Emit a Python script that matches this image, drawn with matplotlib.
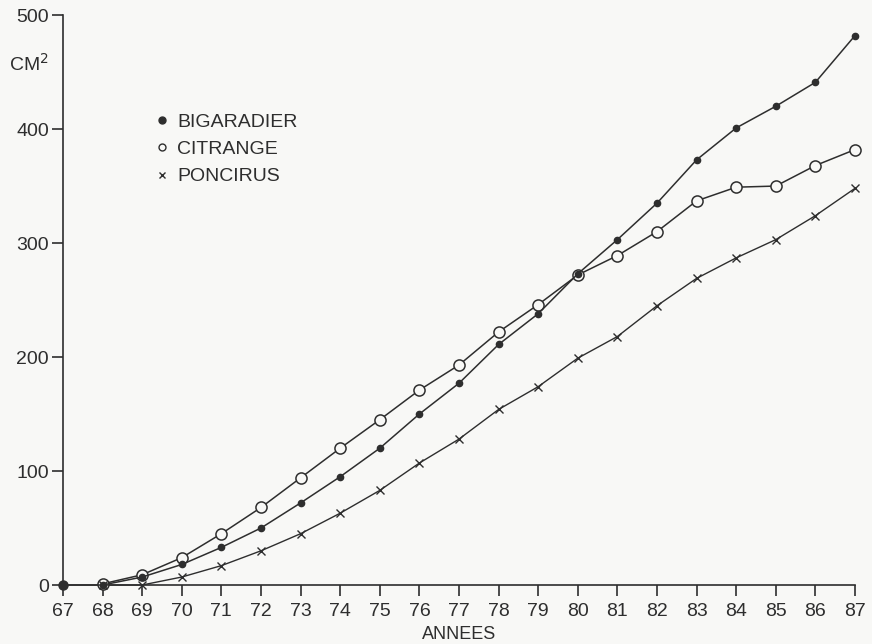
import numpy as np
import matplotlib
matplotlib.use("Agg")
import matplotlib.pyplot as plt
from matplotlib.lines import Line2D

# years (19xx) and surface values in cm2
annees = list(range(67, 88))
bigaradier = [0, 0, 7, 18, 33, 50, 72, 95, 120, 150, 177, 211, 238, 273,
              303, 335, 373, 401, 420, 441, 482]
# citrange and poncirus only start at 68
citrange = [np.nan, 1, 9, 24, 45, 68, 94, 120, 145, 171, 193, 222, 246, 272,
            289, 310, 337, 349, 350, 368, 382]
poncirus = [np.nan, 0, 0, 7, 17, 30, 45, 63, 83, 107, 128, 154, 174, 199,
            218, 245, 269, 287, 303, 324, 348]

ink = '#2e2e2e'
bg = '#f8f8f6'
plt.rcParams['font.family'] = ['Liberation Sans', 'DejaVu Sans']

fig = plt.figure(figsize=(8.72, 6.44), dpi=100, facecolor=bg)
ax = fig.add_axes([0.0722, 0.0916, 0.9083, 0.885], facecolor=bg)

ax.plot(annees, citrange, color=ink, lw=1.1, marker='o', ms=8,
        mfc=bg, mec=ink, mew=1.1, clip_on=False, zorder=3)
ax.plot(annees, poncirus, color=ink, lw=1.0, marker='x', ms=6,
        mec=ink, mew=1.0, clip_on=False, zorder=3)
ax.plot(annees, bigaradier, color=ink, lw=1.1, marker='o', ms=4.5,
        mfc=ink, mec=ink, clip_on=False, zorder=4)
# first point drawn a bit heavier, as on the original
ax.plot(annees[:1], bigaradier[:1], ls='none', marker='o', ms=6.5,
        color=ink, clip_on=False, zorder=5)

ax.set_xlim(67, 87)
ax.set_ylim(0, 500)
ax.set_xticks(annees)
ax.set_yticks([0, 100, 200, 300, 400, 500])
for s in ['top', 'right']:
    ax.spines[s].set_visible(False)
for s in ['left', 'bottom']:
    ax.spines[s].set_color(ink)
    ax.spines[s].set_linewidth(1.2)
ax.tick_params(colors=ink, labelsize=14, length=8, width=1.2, pad=2)
ax.tick_params(axis='x', pad=5)

ax.set_xlabel('ANNEES', color=ink, fontsize=13, labelpad=4)
fig.text(0.010, 0.890, 'CM$^2$', color=ink, fontsize=14)

handles = [
    Line2D([], [], ls='none', marker='o', ms=5, mfc=ink, mec=ink),
    Line2D([], [], ls='none', marker='o', ms=5, mfc=bg, mec=ink, mew=1),
    Line2D([], [], ls='none', marker='x', ms=5, mec=ink, mew=1),
]
ax.legend(handles, ['BIGARADIER', 'CITRANGE', 'PONCIRUS'], loc='upper left',
          bbox_to_anchor=(0.106, 0.845), frameon=False, fontsize=14,
          labelcolor=ink, handlelength=0.6, handletextpad=0.45,
          labelspacing=0.5, borderpad=0)

fig.savefig('out.png', dpi=100, facecolor=bg)
